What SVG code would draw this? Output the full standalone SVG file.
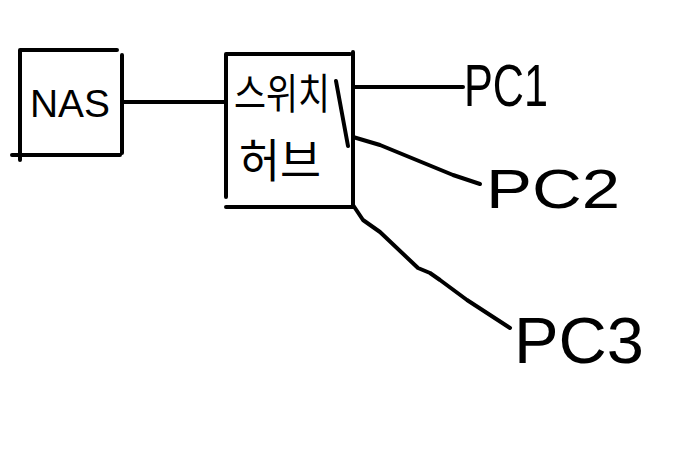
<svg xmlns="http://www.w3.org/2000/svg" width="690" height="461" viewBox="0 0 690 461">
<style>
.s{fill:none;stroke:#000;stroke-width:4;stroke-linecap:round;stroke-linejoin:round}
.t{fill:#000;font-family:"Liberation Sans","Noto Sans CJK KR",sans-serif}
.k{fill:#000;font-family:"Noto Sans CJK KR",sans-serif}
</style>
<rect width="690" height="461" fill="#fff"/>
<g id="nas">
<path class="s" d="M20,50 L117,50 M20,50 L20,160 M12,155 L120,155 M122,55 L122,153"/>
<text class="t" x="70" y="117" font-size="38" text-anchor="middle" textLength="80" lengthAdjust="spacingAndGlyphs">NAS</text>
</g>
<g id="switch">
<path class="s" d="M226,54 L350,54 M226,54 L226,197 M353,52 L353,205 M226,207 L353,207 M336,81 L348,146"/>
<text class="k" x="282" y="109" font-size="42" text-anchor="middle" textLength="96" lengthAdjust="spacingAndGlyphs">스위치</text>
<text class="k" x="280" y="177" font-size="46" text-anchor="middle" textLength="82" lengthAdjust="spacingAndGlyphs">허브</text>
</g>
<g id="pc1">
<text class="t" x="464" y="106" font-size="60" textLength="84" lengthAdjust="spacingAndGlyphs">PC1</text>
</g>
<g id="pc2">
<text class="t" x="486" y="208" font-size="56" textLength="134" lengthAdjust="spacingAndGlyphs">PC2</text>
</g>
<g id="pc3">
<text class="t" x="514" y="363" font-size="64" textLength="130" lengthAdjust="spacingAndGlyphs">PC3</text>
</g>
<g id="connectors">
<path class="s" d="M122,102 L225,102"/>
<path class="s" d="M353,87 L463,87"/>
<path class="s" d="M353,137 L380,145 L453,175 L480,184"/>
<path class="s" d="M353,205 L363,220 L380,232 L418,268 L430,273 L440,280 L467,300 L510,328"/>
</g>
</svg>
